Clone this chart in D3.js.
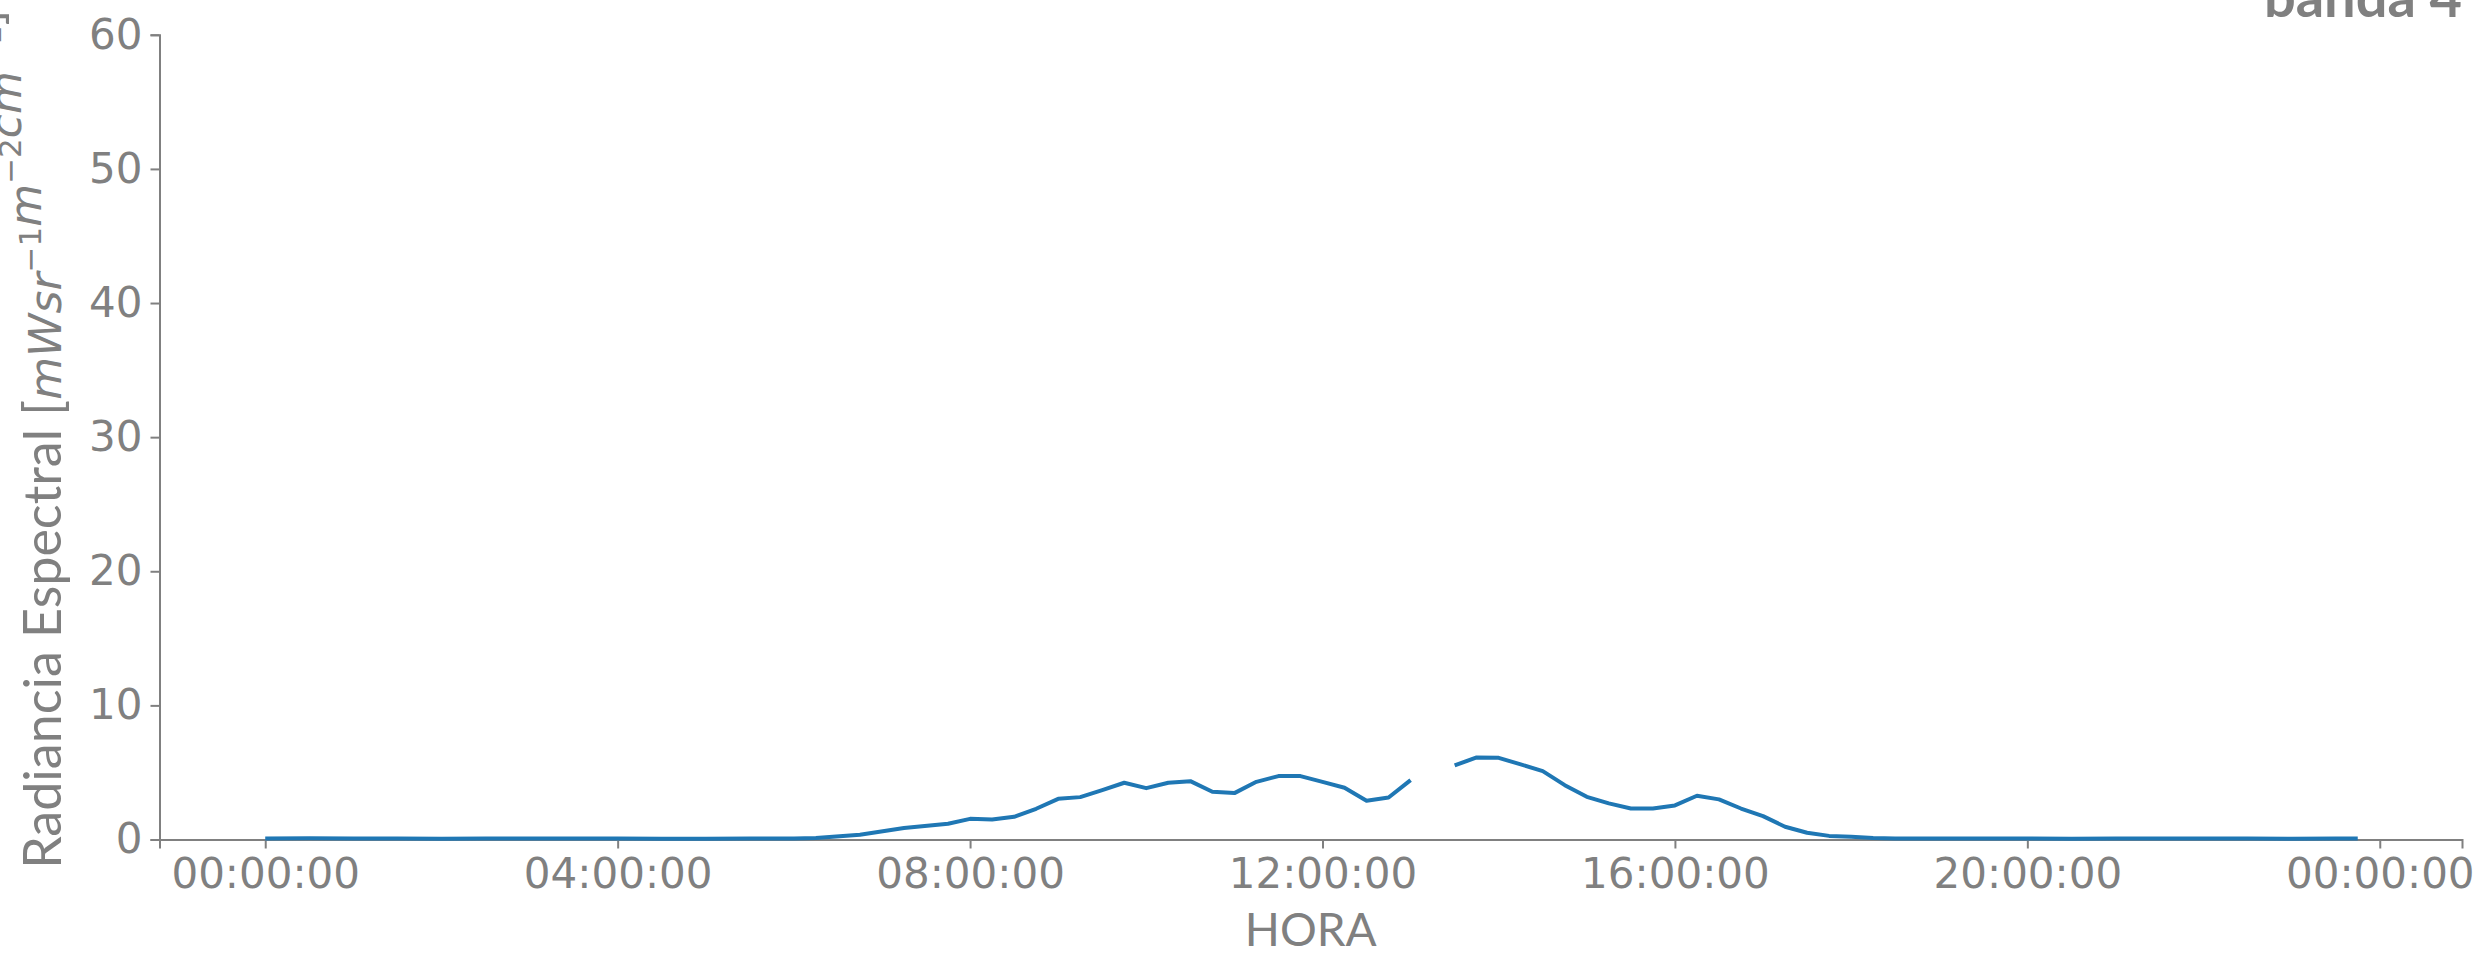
<!DOCTYPE html>
<html>
    <head>
        <title>banda 4</title>
        <script src="https://d3js.org/d3.v7.min.js"></script>
        <style>
            body { margin: 0; background: #ffffff; }
        </style>
    </head>
    <body>

    </body>
    <script>
        var w = 2479;
        var h = 954;

        // hora del dia (HH:MM) y radiancia espectral medida
        var horas = ["00:00","00:30","01:00","01:30","02:00","02:30","03:00","03:30","04:00","04:30",
                     "05:00","05:30","06:00","06:15","06:45","07:15","07:45","08:00","08:15","08:30",
                     "08:45","09:00","09:15","09:30","09:45","10:00","10:15","10:30","10:45","11:00",
                     "11:15","11:30","11:45","12:00","12:15","12:30","12:45","13:00","13:15","13:30",
                     "13:45","14:00","14:15","14:30","14:45","15:00","15:15","15:30","15:45","16:00",
                     "16:15","16:30","16:45","17:00","17:15","17:30","17:45","18:00","18:15","18:30",
                     "19:00","19:30","20:00","20:30","21:00","21:30","22:00","22:30","23:00","23:30","23:45"];
        var radiancia = [0.08, 0.09, 0.08, 0.07, 0.06, 0.07, 0.07, 0.08, 0.07, 0.06,
                         0.06, 0.07, 0.08, 0.12, 0.35, 0.85, 1.17, 1.54, 1.49, 1.69,
                         2.29, 3.03, 3.16, 3.68, 4.23, 3.83, 4.23, 4.35, 3.56, 3.46,
                         4.30, 4.73, 4.73, 4.30, 3.86, 2.89, 3.13, 4.43, null, 5.52,
                         6.12, 6.09, 5.60, 5.10, 4.05, 3.18, 2.69, 2.31, 2.31, 2.54,
                         3.26, 2.99, 2.31, 1.74, 0.95, 0.50, 0.27, 0.20, 0.12, 0.08,
                         0.07, 0.08, 0.07, 0.06, 0.07, 0.07, 0.08, 0.07, 0.06, 0.07, 0.07];
        var yTicks = [0, 10, 20, 30, 40, 50, 60];
        var xTickHoras = [0, 4, 8, 12, 16, 20, 24];

        var gris = "#808080";
        var mLeft = 159.5, mRight = 2462, mTop = 34.8, mBottom = 839.5;

        var parse = d3.timeParse("%H:%M");
        var base = parse("00:00");
        var data = horas.map(function(d, i){ return { t: parse(d), v: radiancia[i] }; });

        var svg = d3.select("body")
                    .append("svg")
                    .attr("width", w)
                    .attr("height", h);

        var x = d3.scaleTime()
                  .domain([d3.timeMinute.offset(base, -71.25), d3.timeMinute.offset(base, 24 * 60 + 56.25)])
                  .range([mLeft, mRight]);
        var y = d3.scaleLinear()
                  .domain([0, 60])
                  .range([mBottom, mTop]);

        var xAxis = d3.axisBottom(x)
                      .tickValues(xTickHoras.map(function(hh){ return d3.timeHour.offset(base, hh); }))
                      .tickFormat(d3.timeFormat("%H:%M:%S"))
                      .tickSizeOuter(0)
                      .tickSize(9)
                      .tickPadding(10);
        var yAxis = d3.axisLeft(y)
                      .tickValues(yTicks)
                      .tickSizeOuter(0)
                      .tickSize(9)
                      .tickPadding(8);

        var gx = svg.append("g").attr("transform", "translate(0," + mBottom + ")").call(xAxis);
        var gy = svg.append("g").attr("transform", "translate(" + mLeft + ",0)").call(yAxis);

        [gx, gy].forEach(function(g){
            g.select(".domain").attr("stroke", gris).attr("stroke-width", 2);
            g.selectAll(".tick line").attr("stroke", gris).attr("stroke-width", 2);
            g.selectAll(".tick text")
                .attr("fill", gris)
                .attr("font-family", "DejaVu Sans")
                .attr("font-size", 42);
        });
        gx.selectAll(".tick text").attr("dy", "0.71em");

        var line = d3.line()
                     .defined(function(d){ return d.v !== null; })
                     .x(function(d){ return x(d.t); })
                     .y(function(d){ return y(d.v); });

        svg.append("path")
            .datum(data)
            .attr("d", line)
            .attr("fill", "none")
            .attr("stroke", "#1f77b4")
            .attr("stroke-width", 4)
            .attr("stroke-linejoin", "round");

        // titulo y etiquetas
        svg.append("text")
            .text("banda 4")
            .attr("x", mRight)
            .attr("y", 17)
            .attr("text-anchor", "end")
            .attr("font-family", "Lato")
            .attr("font-weight", "bold")
            .attr("font-size", 56)
            .attr("fill", gris);

        svg.append("text")
            .text("HORA")
            .attr("x", (mLeft + mRight) / 2)
            .attr("y", 946)
            .attr("text-anchor", "middle")
            .attr("font-family", "Lato")
            .attr("font-size", 46)
            .attr("fill", gris);

        var ylab = svg.append("text")
            .attr("transform", "translate(61," + ((mTop + mBottom) / 2 + 2) + ") rotate(-90)")
            .attr("text-anchor", "middle")
            .attr("font-size", 44)
            .attr("fill", gris);
        ylab.append("tspan").attr("font-family", "Lato").attr("font-size", 52).text("Radiancia Espectral [");
        var partes = [["mWsr", "\u22121"], ["m", "\u22122"], ["cm", "\u22121"]];
        partes.forEach(function(p){
            ylab.append("tspan").attr("font-family", "DejaVu Sans").attr("font-style", "oblique").text(p[0]);
            ylab.append("tspan").attr("font-family", "DejaVu Sans").attr("font-size", 31)
                .attr("dy", -20).text(p[1]);
            ylab.append("tspan").attr("dy", 20).text("");
        });
        ylab.append("tspan").attr("font-family", "Lato").attr("font-size", 52).text("]");
    </script>
</html>
